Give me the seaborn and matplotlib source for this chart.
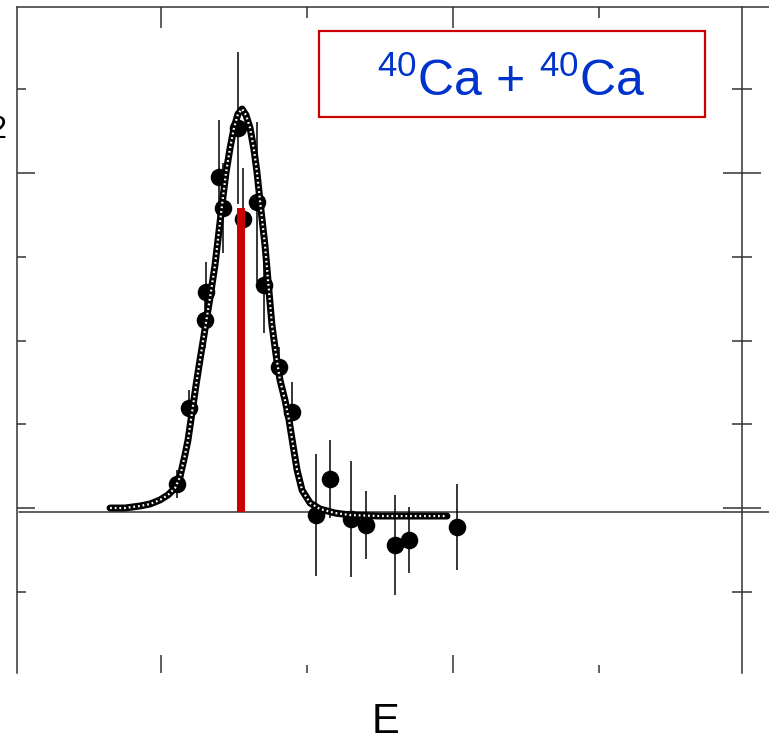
import matplotlib
matplotlib.use("Agg")
import matplotlib.pyplot as plt
import seaborn as sns
import pandas as pd
from matplotlib.patches import Rectangle
from matplotlib.ticker import MultipleLocator

# Measured strength with uncertainties
energy = [21.10, 21.92, 23.01, 23.08, 24.25, 23.97, 25.27, 25.62, 26.58, 27.05,
          28.08, 28.97, 30.62, 31.58, 33.01, 34.04, 36.03, 36.99, 40.27]
strength = [0.143, 0.597, 1.122, 1.290, 1.791, 1.976, 2.269, 1.725, 1.827, 1.331,
            0.842, 0.573, -0.042, 0.173, -0.066, -0.101, -0.221, -0.191, -0.113]
strength_err = [0.084, 0.107, 0.167, 0.179, 0.269, 0.340, 0.454, 0.304, 0.478, 0.287,
                0.119, 0.179, 0.364, 0.233, 0.346, 0.203, 0.299, 0.197, 0.257]

# Calculated response curve
fit_energy = [16.51, 17.53, 18.56, 19.25, 19.93, 20.48, 20.96, 21.30, 21.64, 21.85,
              22.12, 22.40, 22.67, 22.95, 23.22, 23.42, 23.70, 23.90, 24.18, 24.45,
              24.73, 25.00, 25.27, 25.55, 25.82, 26.10, 26.37, 26.58, 26.85, 27.12,
              27.33, 27.60, 27.88, 28.15, 28.49, 28.77, 29.04, 29.32, 29.66, 30.21,
              30.89, 31.92, 32.95, 35.00, 37.74, 39.59]
fit_value = [0.000, 0.000, 0.012, 0.024, 0.048, 0.078, 0.119, 0.185, 0.316, 0.406,
             0.567, 0.734, 0.884, 1.033, 1.182, 1.290, 1.451, 1.600, 1.809, 2.000,
             2.149, 2.269, 2.352, 2.382, 2.346, 2.269, 2.137, 2.000, 1.779, 1.570,
             1.361, 1.093, 0.913, 0.764, 0.645, 0.525, 0.376, 0.227, 0.107, 0.030,
             -0.006, -0.030, -0.042, -0.048, -0.048, -0.048]

# Single-state strength line
peak_energy = [25.48]
peak_top = [1.791]
baseline = -0.024

system_label = r"$^{40}$Ca + $^{40}$Ca"
x_label = "E"

sns.set_style("white")
plt.rcParams["font.family"] = ["Liberation Sans", "DejaVu Sans"]
plt.rcParams["text.color"] = "black"
plt.rcParams["mathtext.fontset"] = "custom"
plt.rcParams["mathtext.rm"] = "Liberation Sans"
plt.rcParams["mathtext.it"] = "Liberation Sans:italic"
plt.rcParams["mathtext.bf"] = "Liberation Sans:bold"

W, H = 769, 745
fig = plt.figure(figsize=(W / 100, H / 100), dpi=100)
ax = fig.add_axes([17 / W, 1 - 673 / H, 725 / W, 666 / H])
ax.set_xlim(10.137, 59.795)
ax.set_ylim(-0.985, 2.991)

axis_col = "#333333"
lw_axis = 1.1

pts = pd.DataFrame({"energy": energy, "strength": strength, "err": strength_err})
fit = pd.DataFrame({"energy": fit_energy, "value": fit_value})

# zero line running past the right frame
ax.plot([10.27, 61.64], [baseline, baseline], color=axis_col, lw=lw_axis,
        clip_on=False, zorder=1)

ax.errorbar(pts["energy"], pts["strength"], yerr=pts["err"], fmt="none",
            ecolor="black", elinewidth=1.1, capsize=0, zorder=2)
sns.scatterplot(data=pts, x="energy", y="strength", s=160, color="black",
                edgecolor="black", linewidth=0, legend=False, zorder=3, ax=ax)

ax.bar(peak_energy, [t - baseline for t in peak_top], bottom=baseline,
       width=0.55, color="#cc0000", linewidth=0, zorder=4)

# curve drawn as a chain of small hollow beads
sns.lineplot(data=fit, x="energy", y="value", sort=False, color="black",
             lw=5.0, zorder=5, ax=ax)
sns.lineplot(data=fit, x="energy", y="value", sort=False, color="white",
             lw=1.6, linestyle=(0, (0.8, 1.3)), zorder=6, ax=ax)

# frame
for side in ("top", "bottom"):
    ax.spines[side].set_visible(False)
for side in ("left", "right"):
    ax.spines[side].set_visible(True)
    ax.spines[side].set_color(axis_col)
    ax.spines[side].set_linewidth(lw_axis)
ax.plot([0, (W - 17) / 725], [1, 1], transform=ax.transAxes, color=axis_col,
        lw=lw_axis, clip_on=False, zorder=7)

ax.xaxis.set_major_locator(MultipleLocator(20))
ax.xaxis.set_minor_locator(MultipleLocator(10))
ax.yaxis.set_major_locator(MultipleLocator(2))
ax.yaxis.set_minor_locator(MultipleLocator(0.5))
ax.tick_params(axis="x", which="both", direction="in", bottom=True, top=False,
               labelbottom=False, color=axis_col, width=lw_axis)
ax.tick_params(axis="x", which="major", length=13)
ax.tick_params(axis="x", which="minor", length=6)
ax.tick_params(axis="y", which="both", direction="in", left=True, right=False,
               labelleft=False, color=axis_col, width=lw_axis)
ax.tick_params(axis="y", which="major", length=13)
ax.tick_params(axis="y", which="minor", length=6.5)

top = ax.secondary_xaxis("top")
top.xaxis.set_major_locator(MultipleLocator(20))
top.xaxis.set_minor_locator(MultipleLocator(10))
top.spines["top"].set_visible(False)
top.tick_params(axis="x", which="both", direction="in", top=True, bottom=False,
                labeltop=False, color=axis_col, width=lw_axis)
top.tick_params(axis="x", which="major", length=15)
top.tick_params(axis="x", which="minor", length=8)

right = ax.secondary_yaxis("right")
right.yaxis.set_major_locator(MultipleLocator(2))
right.yaxis.set_minor_locator(MultipleLocator(0.5))
right.spines["right"].set_visible(False)
right.tick_params(axis="y", which="both", direction="inout", right=True, left=False,
                  labelright=False, color=axis_col, width=lw_axis)
right.tick_params(axis="y", which="major", length=27)
right.tick_params(axis="y", which="minor", length=14)

ax.set_xlabel("")
ax.set_ylabel("")
fig.text(385 / W, 1 - 722 / H, x_label, ha="center", va="center", fontsize=30,
         color="black")
# tick value partly beyond the left edge of the canvas
fig.text(6 / W, 1 - 130 / H, "2", ha="right", va="center", fontsize=22,
         color="black")

# system label box
box = Rectangle(((319 - 17) / 725, (673 - 117) / 666), (705 - 319) / 725,
                (117 - 31) / 666, transform=ax.transAxes, fill=False,
                edgecolor="#cc0000", lw=1.6, zorder=8)
ax.add_patch(box)
ax.text((511 - 17) / 725, (673 - 82) / 666, system_label, transform=ax.transAxes,
        ha="center", va="center", fontsize=36, color="#0033cc", zorder=9)

fig.savefig("out.png", dpi=100)
